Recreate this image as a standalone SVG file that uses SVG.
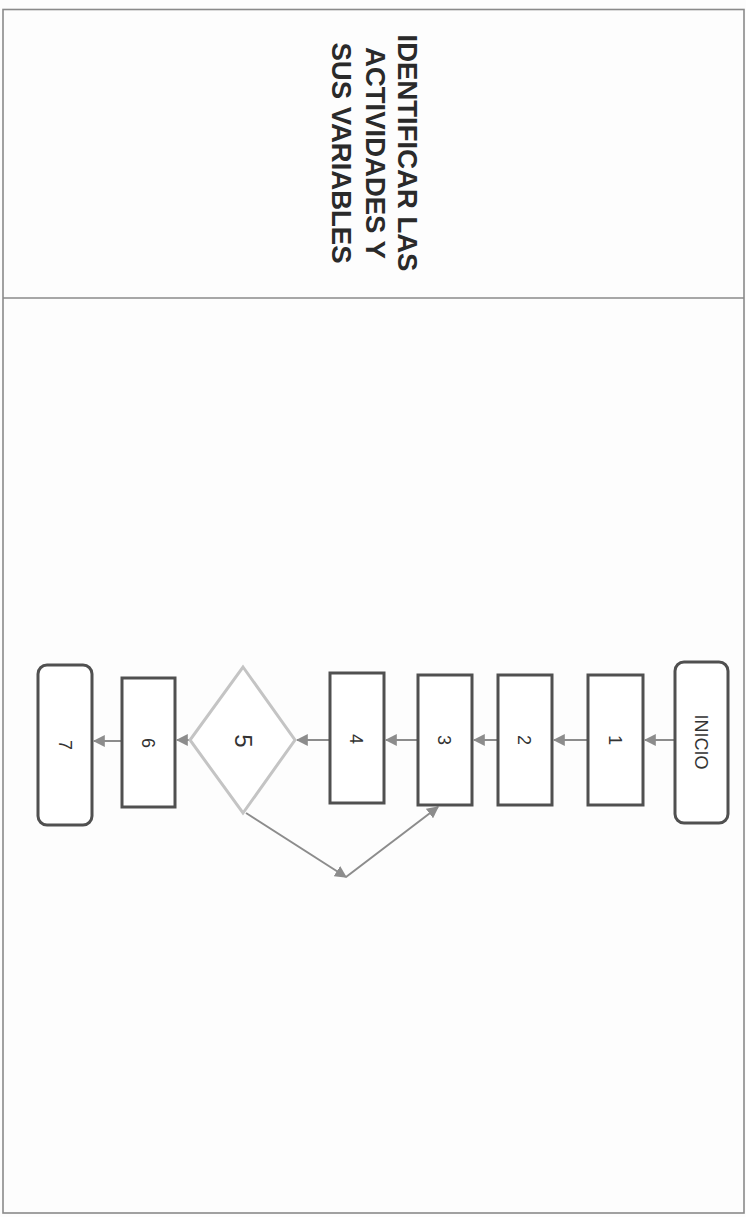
<svg xmlns="http://www.w3.org/2000/svg" width="746" height="1217" viewBox="0 0 746 1217">
<defs>
<style>
.box{fill:#ffffff;stroke:#505050;stroke-width:3}
.dia{fill:#ffffff;stroke:#c4c4c4;stroke-width:3}
.frame{fill:none;stroke:#8a8a8a;stroke-width:1.6}
.conn{fill:none;stroke:#8c8c8c;stroke-width:2}
.lbl{font-family:"Liberation Sans",Arial,sans-serif;font-size:18px;fill:#333333;text-anchor:middle}
.title{font-family:"Liberation Sans",Arial,sans-serif;font-size:27.5px;font-weight:bold;fill:#2a2a2a;text-anchor:middle}
</style>
<marker id="ah" viewBox="0 0 10 10" refX="9" refY="5" markerWidth="6" markerHeight="6" orient="auto" markerUnits="strokeWidth">
<path d="M0,0 L10,5 L0,10 z" fill="#8c8c8c"/>
</marker>
</defs>
<rect x="0" y="0" width="746" height="1217" fill="#fdfdfd"/>
<g id="frame">
<rect class="frame" x="3" y="9.5" width="741" height="1203.5"/>
<line class="frame" x1="3" y1="298" x2="744" y2="298"/>
</g>
<g id="title">
<text class="title" transform="translate(398,153) rotate(90)">IDENTIFICAR LAS</text>
<text class="title" transform="translate(366,153) rotate(90)">ACTIVIDADES Y</text>
<text class="title" transform="translate(332,153) rotate(90)">SUS VARIABLES</text>
</g>
<g id="connectors">
<line class="conn" x1="675" y1="740" x2="645" y2="740" marker-end="url(#ah)"/>
<line class="conn" x1="588" y1="740" x2="554" y2="740" marker-end="url(#ah)"/>
<line class="conn" x1="498" y1="740" x2="474" y2="740" marker-end="url(#ah)"/>
<line class="conn" x1="418" y1="740" x2="386" y2="740" marker-end="url(#ah)"/>
<line class="conn" x1="330" y1="740" x2="297" y2="740" marker-end="url(#ah)"/>
<line class="conn" x1="190" y1="740" x2="177" y2="740" marker-end="url(#ah)"/>
<line class="conn" x1="122" y1="741" x2="94" y2="741" marker-end="url(#ah)"/>
<line class="conn" x1="246" y1="813" x2="346" y2="877" marker-end="url(#ah)"/>
<line class="conn" x1="346" y1="877" x2="438" y2="807" marker-end="url(#ah)"/>
</g>
<g id="n-inicio">
<rect class="box" x="675" y="662" width="53" height="161" rx="9"/>
<text class="lbl" transform="translate(695,742) rotate(90)">INICIO</text>
</g>
<g id="n-1">
<rect class="box" x="588" y="675" width="55" height="130"/>
<text class="lbl" transform="translate(609,740) rotate(90)">1</text>
</g>
<g id="n-2">
<rect class="box" x="498" y="675" width="54" height="130"/>
<text class="lbl" transform="translate(518,740) rotate(90)">2</text>
</g>
<g id="n-3">
<rect class="box" x="418" y="675" width="54" height="130"/>
<text class="lbl" transform="translate(438,740) rotate(90)">3</text>
</g>
<g id="n-4">
<rect class="box" x="330" y="673" width="54" height="130"/>
<text class="lbl" transform="translate(350,739) rotate(90)">4</text>
</g>
<g id="n-5">
<polygon class="dia" points="243,667 295,740 243,813 190,740"/>
<text class="lbl" style="font-size:24px" transform="translate(235,741) rotate(90)">5</text>
</g>
<g id="n-6">
<rect class="box" x="122" y="678" width="53" height="129"/>
<text class="lbl" transform="translate(142,743) rotate(90)">6</text>
</g>
<g id="n-7">
<rect class="box" x="38" y="665" width="54" height="160" rx="9"/>
<text class="lbl" transform="translate(59,745) rotate(90)">7</text>
</g>
</svg>
